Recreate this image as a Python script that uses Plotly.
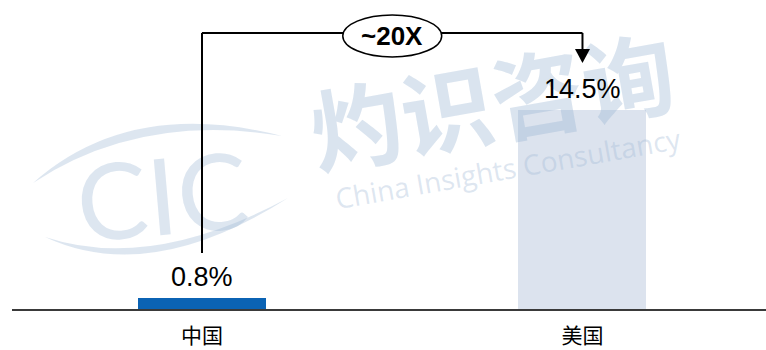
import plotly.graph_objects as go

# Data
categories = ["中国", "美国"]
values = [0.8, 14.5]
bar_colors = ["#0B63B4", "#DCE3EE"]
multiple_label = "~20X"

W, H = 766, 350
M_L, M_R, M_T, M_B = 12, 0, 0, 41
PLOT_W = W - M_L - M_R
PLOT_H = H - M_T - M_B

x_pos = list(range(len(categories)))
x_range = [-0.4993, 1.4823]
y_range = [0, 22.52]


def to_paper(px, py):
    """Convert page pixels to paper coordinates (for watermark drawing)."""
    return (px - M_L) / PLOT_W, 1 - (py - M_T) / PLOT_H


fig = go.Figure()

fig.add_trace(go.Bar(
    x=x_pos, y=values, width=0.3364,
    marker=dict(color=bar_colors, line=dict(width=0)),
    hoverinfo="skip", showlegend=False,
))

# --- watermark (translucent, drawn over the bars) --------------------------
wm_logo = "rgba(160,185,214,0.36)"
wm_text = "rgba(150,178,210,0.35)"
wm_small = "rgba(160,185,214,0.36)"


def crescent(p0, c_out, p2, c_in):
    a = to_paper(*p0)
    b = to_paper(*c_out)
    c = to_paper(*p2)
    d = to_paper(*c_in)
    return (f"M {a[0]:.4f},{a[1]:.4f} Q {b[0]:.4f},{b[1]:.4f} {c[0]:.4f},{c[1]:.4f} "
            f"Q {d[0]:.4f},{d[1]:.4f} {a[0]:.4f},{a[1]:.4f} Z")


shapes = [
    dict(type="path", xref="paper", yref="paper", layer="above",
         path=crescent((33, 183), (130, 97), (282, 136), (140, 112.5)),
         fillcolor=wm_logo, line=dict(width=0)),
    dict(type="path", xref="paper", yref="paper", layer="above",
         path=crescent((45, 237), (150, 286), (288, 198), (150, 272)),
         fillcolor=wm_logo, line=dict(width=0)),
]


def watermark(px, py, half_w, half_h, text, angle, font):
    x0, y0 = to_paper(px - half_w, py + half_h)
    x1, y1 = to_paper(px + half_w, py - half_h)
    shapes.append(dict(type="rect", xref="paper", yref="paper", layer="above",
                       x0=x0, x1=x1, y0=y0, y1=y1,
                       fillcolor="rgba(0,0,0,0)", line=dict(width=0),
                       label=dict(text=text, textangle=angle, font=font,
                                  textposition="middle center")))


watermark(162, 193, 100, 50, "CIC", -5,
          dict(family="Lato", size=106, color=wm_logo, weight=400))
watermark(494, 112, 190, 70, "灼识咨询", -10,
          dict(family="Noto Sans CJK SC", size=92, color=wm_text, weight=700))
watermark(508, 170, 180, 30, "China Insights Consultancy", -10,
          dict(family="Open Sans", size=28, color=wm_small))

annotations = []

# --- value labels ----------------------------------------------------------
for xp, v in zip(x_pos, values):
    annotations.append(dict(x=xp, y=v, xref="x", yref="y", text=f"{v:.1f}%",
                            showarrow=False, yanchor="middle", yshift=21,
                            font=dict(family="Arial, Liberation Sans", size=27, color="#000000")))

# --- growth bracket --------------------------------------------------------
x_left, x_right = x_pos[0], x_pos[1]
top = values[1] + 5.62          # horizontal run of the bracket
left_start = values[0] + 3.28   # bottom of the left leg
tip = values[1] + 3.43          # arrow tip above the taller bar
head_len = 1.02
head_half = 0.0197
line_style = dict(color="#000000", width=2)

shapes += [
    dict(type="line", xref="x", yref="y", x0=x_left, x1=x_left,
         y0=left_start, y1=top, line=line_style),
    dict(type="line", xref="x", yref="y", x0=x_left, x1=x_right,
         y0=top, y1=top, line=line_style),
    dict(type="line", xref="x", yref="y", x0=x_right, x1=x_right,
         y0=top, y1=tip + head_len, line=line_style),
    dict(type="path", xref="x", yref="y",
         path=(f"M {x_right - head_half},{tip + head_len} L {x_right + head_half},{tip + head_len} "
               f"L {x_right},{tip} Z"),
         fillcolor="#000000", line=dict(width=0)),
]

mid_x = (x_left + x_right) / 2
shapes.append(dict(type="circle", xref="x", yref="y",
                   x0=mid_x - 0.13, x1=mid_x + 0.13, y0=top - 1.75, y1=top + 1.31,
                   fillcolor="#FFFFFF", line=dict(color="#000000", width=1.5)))
annotations.append(dict(x=mid_x, y=top - 0.22, xref="x", yref="y", text=f"<b>{multiple_label}</b>",
                        showarrow=False, yanchor="middle",
                        font=dict(family="Arial, Liberation Sans", size=26, color="#000000")))

fig.update_layout(
    width=W, height=H,
    margin=dict(l=M_L, r=M_R, t=M_T, b=M_B),
    paper_bgcolor="#FFFFFF", plot_bgcolor="#FFFFFF",
    shapes=shapes, annotations=annotations,
    bargap=0,
    xaxis=dict(range=x_range, tickvals=x_pos, ticktext=categories,
               showgrid=False, zeroline=False, showline=True,
               linecolor="#3A3A3A", linewidth=2, ticks="",
               ticklabelstandoff=7,
               tickfont=dict(family="Noto Sans CJK SC", size=21, color="#000000"),
               automargin=False, fixedrange=True),
    yaxis=dict(range=y_range, visible=False, showgrid=False, zeroline=False,
               fixedrange=True),
)

fig.write_html("out.html", config={"displayModeBar": False})
